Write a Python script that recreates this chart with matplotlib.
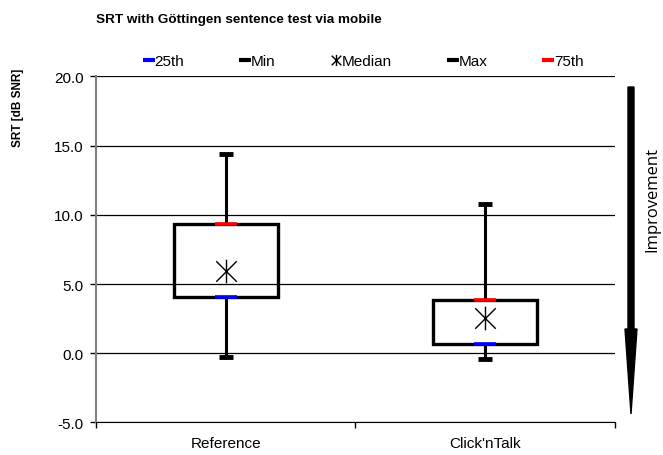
import numpy as np
import matplotlib
matplotlib.use("Agg")
from matplotlib import pyplot as plt
from matplotlib.lines import Line2D
from matplotlib.path import Path
from matplotlib.patches import FancyArrow

plt.rcParams['font.family'] = ['Liberation Sans', 'DejaVu Sans']

# values
groups = ["Reference", "Click'nTalk"]
mins = [-0.3, -0.4]
q1 = [4.05, 0.7]
medians = [5.95, 2.55]
q3 = [9.3, 3.85]
maxs = [14.4, 10.75]

# asterisk-like marker: an X with a vertical bar through it
star = Path([(-1, -1), (1, 1), (-1, 1), (1, -1), (0, -1.15), (0, 1.15)],
            [Path.MOVETO, Path.LINETO, Path.MOVETO, Path.LINETO, Path.MOVETO, Path.LINETO])

fig = plt.figure(figsize=(6.63, 4.56), dpi=100)
ax = fig.add_axes([0.1443, 0.0713, 0.928 - 0.1443, 0.8305 - 0.0713])

x = np.arange(len(groups)) + 0.5
lo = np.array(q1)
hi = np.array(q3)

ax.bar(x, hi - lo, bottom=lo, width=0.4, fill=False, edgecolor='black', lw=2.4, zorder=3)
ax.vlines(x, mins, q1, color='black', lw=2.2, zorder=2)
ax.vlines(x, q3, maxs, color='black', lw=2.2, zorder=2)
ax.plot(x, mins, ls='', marker='_', color='black', ms=10, mew=3.5, zorder=4)
ax.plot(x, maxs, ls='', marker='_', color='black', ms=10, mew=3.5, zorder=4)
ax.plot(x, q1, ls='', marker='_', color='blue', ms=16, mew=2.6, zorder=5)
ax.plot(x, q3, ls='', marker='_', color='red', ms=16, mew=2.6, zorder=5)
ax.plot(x, medians, ls='', marker=star, color='black', ms=17, mew=1.0,
        mfc='none', zorder=5)

ax.set_ylim(-5, 20)
ax.set_xlim(0, 2)
ax.set_yticks(np.arange(-5, 21, 5))
ax.set_yticklabels(['%.1f' % v for v in np.arange(-5, 21, 5)], fontsize=11)
ax.yaxis.grid(True, color='black', lw=0.9)
ax.set_axisbelow(True)
ax.set_xticks([0, 1, 2])
ax.set_xticklabels([])
ax.set_xticks(x, minor=True)
ax.set_xticklabels(groups, minor=True, fontsize=11)
ax.tick_params(axis='x', which='minor', length=0, pad=10)
ax.tick_params(axis='x', which='major', length=4, width=1, direction='out')
ax.tick_params(axis='y', length=4.5, width=1, color='black', direction='out', pad=4)
ax.spines['top'].set_visible(False)
ax.spines['right'].set_visible(False)
ax.spines['left'].set_color('#808080')
ax.spines['left'].set_linewidth(1.5)
ax.spines['bottom'].set_color('black')

fig.text(96 / 663, 1 - 20 / 456, 'SRT with Göttingen sentence test via mobile',
         fontsize=9.7, fontweight='bold', ha='left', va='center')
fig.text(18 / 663, 1 - 108 / 456, 'SRT [dB SNR]', fontsize=8.5, fontweight='bold',
         rotation=90, ha='center', va='center')

handles = [
    Line2D([], [], ls='', marker='_', color='blue', ms=8, mew=3),
    Line2D([], [], ls='', marker='_', color='black', ms=8, mew=3),
    Line2D([], [], ls='', marker=star, color='black', ms=8, mew=1, mfc='none'),
    Line2D([], [], ls='', marker='_', color='black', ms=8, mew=3),
    Line2D([], [], ls='', marker='_', color='red', ms=8, mew=3),
]
fig.legend(handles, ['25th', 'Min', 'Median', 'Max', '75th'], ncol=5, frameon=False,
           loc='center', bbox_to_anchor=(364 / 663, 1 - 62 / 456), fontsize=11,
           handlelength=0.6, handletextpad=0.05, columnspacing=3.7)

arrow = FancyArrow(6.31, 3.68, 0, -3.27, width=0.06, head_width=0.12, head_length=0.85,
                   length_includes_head=True, color='black', transform=fig.dpi_scale_trans)
fig.add_artist(arrow)
fig.text(652 / 663, 1 - 200 / 456, 'Improvement', rotation=90, fontsize=12,
         family=['Open Sans', 'DejaVu Sans'], ha='center', va='center')

fig.savefig('out.png', dpi=100)
